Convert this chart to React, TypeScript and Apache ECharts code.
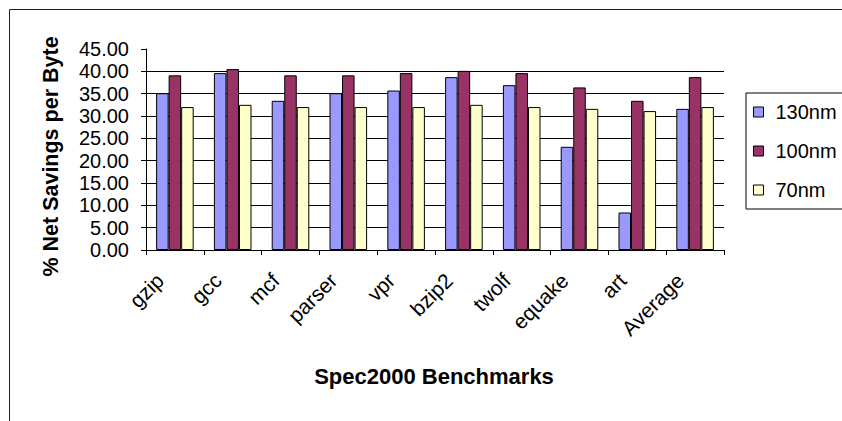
import React, { useEffect, useRef } from "react";
import * as echarts from "echarts";

const benchmarks = ["gzip", "gcc", "mcf", "parser", "vpr", "bzip2", "twolf", "equake", "art", "Average"];
const savings130nm = [35.1, 39.6, 33.4, 35.1, 35.7, 38.7, 36.9, 23.1, 8.4, 31.6];
const savings100nm = [39.1, 40.5, 39.1, 39.1, 39.6, 40.1, 39.6, 36.4, 33.4, 38.7];
const savings70nm = [32.0, 32.5, 32.0, 32.0, 32.0, 32.5, 32.0, 31.6, 31.1, 32.0];
const seriesNames = ["130nm", "100nm", "70nm"];
const seriesColors = ["#9999FF", "#993366", "#FFFFCC"];

const FONT = "Arial, 'Liberation Sans', sans-serif";

export default function App() {
  const ref = useRef<HTMLDivElement>(null);

  useEffect(() => {
    document.body.style.margin = "0";
    if (!ref.current) return;
    const chart = echarts.init(ref.current, null, { renderer: "svg" });
    const values = [savings130nm, savings100nm, savings70nm];

    // split lines at 0..40 in black, none at the top value (45)
    const gridColors = Array.from({ length: 10 }, (_, i) => (i === 9 ? "rgba(0,0,0,0)" : "#000"));

    chart.setOption({
      animation: false,
      backgroundColor: "#fff",
      textStyle: { fontFamily: FONT },
      grid: { left: 146, top: 49, right: 118, bottom: 171, containLabel: false },
      legend: {
        orient: "vertical",
        left: 746,
        top: 93,
        padding: [9, 30, 9, 7],
        itemWidth: 10,
        itemHeight: 10,
        itemGap: 19,
        icon: "rect",
        borderColor: "#000",
        borderWidth: 1,
        itemStyle: { borderColor: "#000", borderWidth: 1 },
        textStyle: { fontSize: 20, color: "#000", fontFamily: FONT, padding: [0, 0, 0, 7] },
        data: seriesNames,
      },
      xAxis: {
        type: "category",
        data: benchmarks,
        axisLine: { lineStyle: { color: "#000", width: 1 } },
        axisTick: { show: true, length: 5, lineStyle: { color: "#000" } },
        axisLabel: {
          rotate: 45,
          margin: 12,
          fontSize: 21,
          color: "#000",
          fontFamily: FONT,
          interval: 0,
          padding: [0, 21, 0, 0],
        },
        splitLine: { show: false },
      },
      yAxis: {
        type: "value",
        min: 0,
        max: 45,
        interval: 5,
        axisLine: { show: true, lineStyle: { color: "#000", width: 1 } },
        axisTick: { show: true, length: 5, lineStyle: { color: "#000" } },
        axisLabel: {
          margin: 17,
          fontSize: 20,
          color: "#000",
          fontFamily: FONT,
          formatter: (v: number) => v.toFixed(2),
        },
        splitLine: { show: true, lineStyle: { color: gridColors, width: 1 } },
      },
      series: seriesNames.map((name, i) => ({
        name,
        type: "bar",
        data: values[i],
        barGap: "0%",
        barCategoryGap: "35%",
        itemStyle: { color: seriesColors[i], borderColor: "#000", borderWidth: 1 },
      })),
      graphic: [
        {
          type: "rect",
          shape: { x: 9.5, y: 9.5, width: 900, height: 500 },
          style: { fill: "none", stroke: "#222", lineWidth: 1 },
          silent: true,
        },
        {
          type: "text",
          x: 51,
          y: 156.5,
          rotation: Math.PI / 2,
          style: {
            text: "% Net Savings per Byte",
            font: `bold 21.5px ${FONT}`,
            fill: "#000",
            align: "center",
            verticalAlign: "middle",
          },
        },
        {
          type: "text",
          x: 434,
          y: 376,
          style: {
            text: "Spec2000 Benchmarks",
            font: `bold 22px ${FONT}`,
            fill: "#000",
            align: "center",
            verticalAlign: "middle",
          },
        },
      ],
    });
    return () => chart.dispose();
  }, []);

  return <div ref={ref} style={{ width: 842, height: 421 }} />;
}
